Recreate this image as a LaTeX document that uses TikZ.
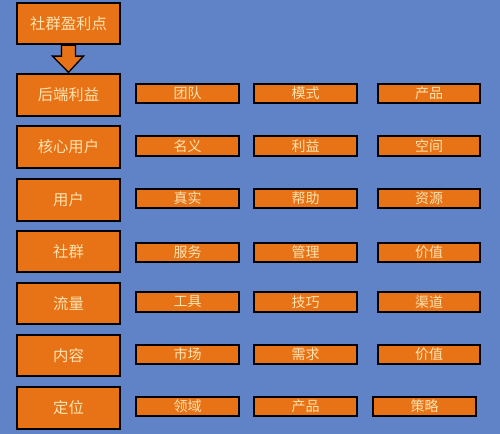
\documentclass[tikz,border=0pt]{standalone}
\usepackage{fontspec}
\usepackage{xcolor}
\usepackage{tikz}
\usetikzlibrary{calc}
\newfontfamily\cjk{Noto Sans CJK SC}
\definecolor{bgblue}{RGB}{96, 130, 198}
\definecolor{boxorange}{RGB}{232, 114, 22}
\definecolor{textcream}{RGB}{252, 228, 178}

\begin{document}
\begin{tikzpicture}[x=0.75pt,y=0.75pt,yscale=-1,xscale=1,
  mainbox/.style={draw=black, line width=1.5pt, fill=boxorange, text=textcream, font=\cjk\fontsize{11.5}{12}\selectfont, minimum width=77pt, minimum height=31pt, inner sep=0pt},
  itembox/.style={draw=black, line width=1.5pt, fill=boxorange, text=textcream, font=\cjk\fontsize{10.5}{11}\selectfont, minimum width=77pt, minimum height=14.5pt, inner sep=0pt}]

%Background
\fill [bgblue] (0,0) rectangle (500,434) ;

% Text Node
\node [mainbox] (profit) at (68.5,23.5) {社群盈利点};
% Text Node
\node [mainbox] (backend) at (68.5,95) {后端利益};
% Text Node
\node [mainbox] (core) at (68.5,147) {核心用户};
% Text Node
\node [mainbox] (user) at (68.5,200) {用户};
% Text Node
\node [mainbox] (group) at (68.5,251.5) {社群};
% Text Node
\node [mainbox] (traffic) at (68.5,303.5) {流量};
% Text Node
\node [mainbox] (content) at (68.5,355.5) {内容};
% Text Node
\node [mainbox] (position) at (68.5,408) {定位};

%Shape: Arrow
\draw [black, line width=1pt, fill=boxorange] ($(profit.south)+(-7,0)$) -- ($(profit.south)+(7,0)$) -- ($(profit.south)+(7,11)$) -- ($(profit.south)+(15,11)$) -- ($(backend.north)+(0,-1)$) -- ($(profit.south)+(-16,11)$) -- ($(profit.south)+(-7,11)$) -- cycle ;

% Text Node
\node [itembox] (backendA) at (187.5,93.5) {团队};
% Text Node
\node [itembox] (backendB) at (305.5,93.5) {模式};
% Text Node
\node [itembox] (backendC) at (429,93.5) {产品};
% Text Node
\node [itembox] (coreA) at (187.5,146) {名义};
% Text Node
\node [itembox] (coreB) at (305.5,146) {利益};
% Text Node
\node [itembox] (coreC) at (429,146) {空间};
% Text Node
\node [itembox] (userA) at (187.5,198.5) {真实};
% Text Node
\node [itembox] (userB) at (305.5,198.5) {帮助};
% Text Node
\node [itembox] (userC) at (429,198.5) {资源};
% Text Node
\node [itembox] (groupA) at (187.5,252.5) {服务};
% Text Node
\node [itembox] (groupB) at (305.5,252.5) {管理};
% Text Node
\node [itembox] (groupC) at (429,252.5) {价值};
% Text Node
\node [itembox] (trafficA) at (187.5,302) {工具};
% Text Node
\node [itembox] (trafficB) at (305.5,302) {技巧};
% Text Node
\node [itembox] (trafficC) at (429,302) {渠道};
% Text Node
\node [itembox] (contentA) at (187.5,354.5) {市场};
% Text Node
\node [itembox] (contentB) at (305.5,354.5) {需求};
% Text Node
\node [itembox] (contentC) at (429,354.5) {价值};
% Text Node
\node [itembox] (positionA) at (187.5,406.5) {领域};
% Text Node
\node [itembox] (positionB) at (305.5,406.5) {产品};
% Text Node
\node [itembox] (positionC) at (424.5,406.5) {策略};

\end{tikzpicture}
\end{document}
